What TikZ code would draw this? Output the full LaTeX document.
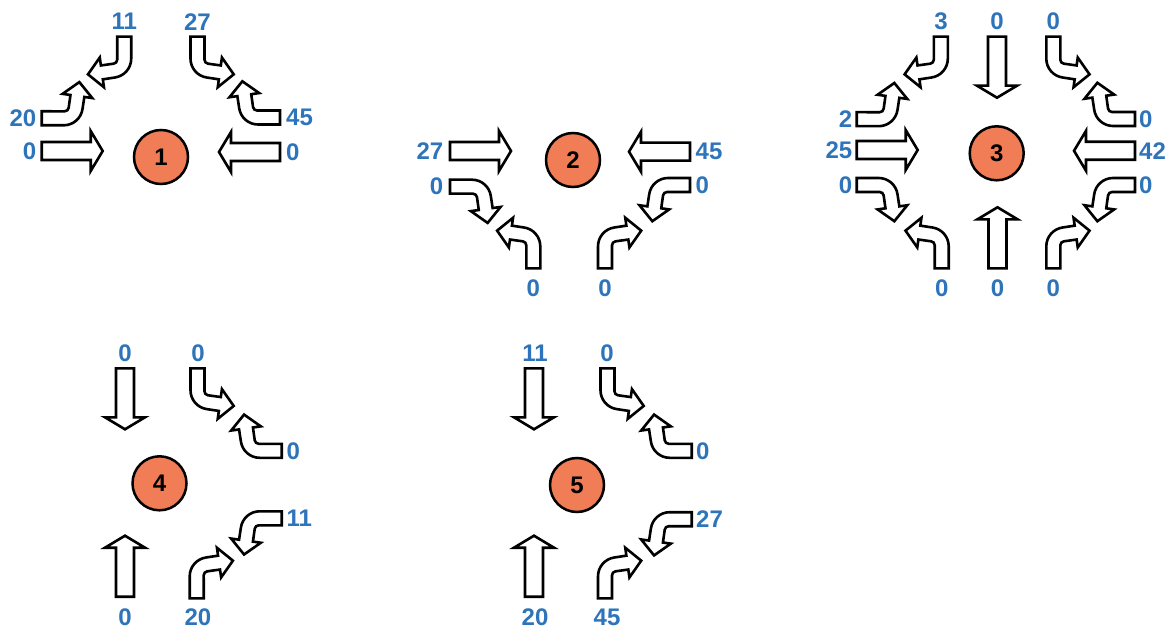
\documentclass[tikz,border=0pt]{standalone}
\usepackage{fontspec}
\setmainfont{Liberation Sans}
\definecolor{lblblue}{RGB}{46,116,186}
\definecolor{circfill}{RGB}{240,125,85}
\tikzset{
  arrowshape/.style={draw=black, fill=white, line width=2.6pt, line join=miter},
  lbl/.style={text=lblblue, font=\fontsize{24}{24}\selectfont\bfseries, inner sep=0pt},
  hub/.style={circle, draw=black, fill=circfill, line width=2.5pt, minimum size=54pt, inner sep=0pt, font=\fontsize{24}{24}\selectfont\bfseries},
  turnarrow/.pic={\path[arrowshape] (0,-7) -- (22,-7) arc[start angle=-90, end angle=-8, radius=19] -- (42.64,21.36) -- (50.55,20.25) -- (37.65,36.21) -- (20.85,24.43) -- (28.77,23.31) -- (26.96,10.44) arc[start angle=-8, end angle=-90, radius=4] -- (0,7) -- cycle;},
  thruarrow/.pic={\path[arrowshape] (0,-9) -- (49,-9) -- (49,-20) -- (61,0) -- (49,20) -- (49,9) -- (0,9) -- cycle;}
}
\begin{document}
\begin{tikzpicture}[x=1pt,y=1pt]
\useasboundingbox[fill=white] (0,0) rectangle (1172,-631);

% ---------- Intersection 1 ----------
\node[hub] (h1) at (161,-157) {1};
\pic at (41.7,-151) {thruarrow};
\pic[rotate=180] at (280,-152) {thruarrow};
\pic at (41.7,-118.3) {turnarrow};
\pic[rotate=270,yscale=-1] at (124.2,-36.7) {turnarrow};
\pic[rotate=270] at (197.5,-36.7) {turnarrow};
\pic[rotate=180,yscale=-1] at (280,-117.5) {turnarrow};
\node[lbl,anchor=east] (a1) at (36.5,-151) {0};
\node[lbl,anchor=west] (a2) at (286,-152) {0};
\node[lbl,anchor=east] (a3) at (36.5,-118.3) {20};
\node[lbl] (a4) at (124.2,-21.7) {11};
\node[lbl] (a5) at (197.5,-21.7) {27};
\node[lbl,anchor=west] (a6) at (286,-117.5) {45};

% ---------- Intersection 2 ----------
\node[hub] (h2) at (573,-160) {2};
\pic at (450,-151) {thruarrow};
\pic[rotate=180] at (690,-151.7) {thruarrow};
\pic[yscale=-1] at (450,-186.7) {turnarrow};
\pic[rotate=90] at (533.3,-268.3) {turnarrow};
\pic[rotate=90,yscale=-1] at (605,-268.3) {turnarrow};
\pic[rotate=180] at (690,-185) {turnarrow};
\node[lbl,anchor=east] (b1) at (443.5,-151) {27};
\node[lbl,anchor=west] (b2) at (695.5,-151.7) {45};
\node[lbl,anchor=east] (b3) at (443.5,-186.7) {0};
\node[lbl,anchor=west] (b4) at (695.5,-185) {0};
\node[lbl] (b5) at (533.3,-288) {0};
\node[lbl] (b6) at (605,-288) {0};

% ---------- Intersection 3 ----------
\node[hub] (h3) at (996.7,-153.3) {3};
\pic[rotate=270] at (997,-36.7) {thruarrow};
\pic[rotate=90] at (997.5,-268.3) {thruarrow};
\pic at (856.7,-150) {thruarrow};
\pic[rotate=180] at (1135,-150.8) {thruarrow};
\pic[rotate=270,yscale=-1] at (940.8,-36.7) {turnarrow};
\pic at (856.7,-119.2) {turnarrow};
\pic[rotate=270] at (1053.3,-36.7) {turnarrow};
\pic[rotate=180,yscale=-1] at (1135,-119) {turnarrow};
\pic[yscale=-1] at (856.7,-185) {turnarrow};
\pic[rotate=90] at (941.7,-268.3) {turnarrow};
\pic[rotate=180] at (1135,-185) {turnarrow};
\pic[rotate=90,yscale=-1] at (1053.3,-268.3) {turnarrow};
\node[lbl] (c1) at (941,-21.7) {3};
\node[lbl] (c2) at (997,-21.7) {0};
\node[lbl] (c3) at (1053.3,-21.7) {0};
\node[lbl,anchor=east] (c4) at (852.5,-119.2) {2};
\node[lbl,anchor=east] (c5) at (852.5,-150) {25};
\node[lbl,anchor=east] (c6) at (852.5,-185) {0};
\node[lbl,anchor=west] (c7) at (1139,-119) {0};
\node[lbl,anchor=west] (c8) at (1139,-150.8) {42};
\node[lbl,anchor=west] (c9) at (1139,-185) {0};
\node[lbl] (c10) at (941.7,-288.5) {0};
\node[lbl] (c11) at (997.5,-288.5) {0};
\node[lbl] (c12) at (1053.3,-288.5) {0};

% ---------- Intersection 4 ----------
\node[hub] (h4) at (159.5,-483.3) {4};
\pic[rotate=270] at (125,-368.3) {thruarrow};
\pic[rotate=90] at (125,-596.7) {thruarrow};
\pic[rotate=270] at (197.5,-368.3) {turnarrow};
\pic[rotate=180,yscale=-1] at (281.7,-450.8) {turnarrow};
\pic[rotate=180] at (281.7,-518.3) {turnarrow};
\pic[rotate=90,yscale=-1] at (196.7,-598.3) {turnarrow};
\node[lbl] (d1) at (125,-353.5) {0};
\node[lbl] (d2) at (198,-353.5) {0};
\node[lbl,anchor=west] (d3) at (286.5,-451.7) {0};
\node[lbl,anchor=west] (d4) at (286.5,-518.3) {11};
\node[lbl] (d5) at (125,-617) {0};
\node[lbl] (d6) at (198,-617) {20};

% ---------- Intersection 5 ----------
\node[hub] (h5) at (577,-485) {5};
\pic[rotate=270] at (534,-368.3) {thruarrow};
\pic[rotate=90] at (534,-596.7) {thruarrow};
\pic[rotate=270] at (607.5,-368.3) {turnarrow};
\pic[rotate=180,yscale=-1] at (691.7,-450.8) {turnarrow};
\pic[rotate=180] at (691.7,-519.2) {turnarrow};
\pic[rotate=90,yscale=-1] at (605,-598.3) {turnarrow};
\node[lbl] (e1) at (535,-353.5) {11};
\node[lbl] (e2) at (607,-353.5) {0};
\node[lbl,anchor=west] (e3) at (696,-451.5) {0};
\node[lbl,anchor=west] (e4) at (696,-519.2) {27};
\node[lbl] (e5) at (535,-617) {20};
\node[lbl] (e6) at (607,-617) {45};
\end{tikzpicture}
\end{document}
